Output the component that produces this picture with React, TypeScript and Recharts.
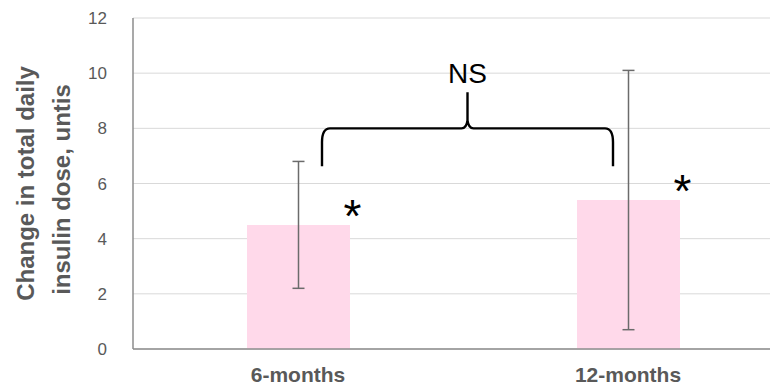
import { BarChart, Bar, XAxis, YAxis, CartesianGrid, ErrorBar, LabelList, ReferenceLine } from 'recharts';

const periods = ['6-months', '12-months'];
const meanChange = [4.5, 5.4];
const errors = [2.3, 4.7];
const marks = ['*', '*'];
const yTicks = [0, 2, 4, 6, 8, 10, 12];

const data = periods.map((name, i) => ({
  name,
  value: meanChange[i],
  err: errors[i],
  sig: marks[i],
}));

const FONT = '"Liberation Sans", Arial, sans-serif';
const AXIS_GRAY = '#8c8c8c';
const TEXT_GRAY = '#595959';

// curly brace spanning both bars, with the NS label on top
const Brace = (props: any) => {
  const { x1, x2, y1 } = props;
  if (x1 == null || x2 == null || y1 == null) return null;
  const L = x1 + 24;
  const R = x2 - 15;
  const M = (L + R) / 2;
  const y = y1;
  const d = [
    `M ${L} ${y + 38}`,
    `L ${L} ${y + 14}`,
    `Q ${L} ${y} ${L + 8} ${y}`,
    `L ${M - 6} ${y}`,
    `Q ${M - 1} ${y} ${M} ${y - 8}`,
    `L ${M} ${y - 36}`,
    `M ${M} ${y - 8}`,
    `Q ${M + 1} ${y} ${M + 6} ${y}`,
    `L ${R - 8} ${y}`,
    `Q ${R} ${y} ${R} ${y + 14}`,
    `L ${R} ${y + 38}`,
  ].join(' ');
  return (
    <g>
      <path d={d} fill="none" stroke="#000" strokeWidth={2.4} strokeLinejoin="round" />
      <text x={M} y={y - 45} textAnchor="middle" fontSize={28} fontFamily={FONT} fill="#000">
        NS
      </text>
    </g>
  );
};

const Star = (props: any) => {
  const { x, y, width, value } = props;
  return (
    <text
      x={x + width + 2.5}
      y={y + 7}
      textAnchor="middle"
      fontSize={46}
      fontFamily={FONT}
      fill="#000"
    >
      {value}
    </text>
  );
};

const YLabel = (props: any) => {
  const vb = props.viewBox || { x: 0, y: 0, width: 0, height: 0 };
  const cy = vb.y + vb.height / 2;
  const style = { fontSize: 24, fontWeight: 700, fontFamily: FONT, fill: TEXT_GRAY };
  return (
    <g>
      <text transform={`translate(${vb.x + 26}, ${cy}) rotate(-90)`} textAnchor="middle" style={style}>
        Change in total daily
      </text>
      <text transform={`translate(${vb.x + 62}, ${cy + 6}) rotate(-90)`} textAnchor="middle" style={style}>
        insulin dose, untis
      </text>
    </g>
  );
};

export default function App() {
  return (
    <div style={{ width: 770, height: 380, overflow: 'hidden', fontFamily: FONT }}>
      <BarChart
        width={790}
        height={380}
        data={data}
        margin={{ top: 10, right: 5, bottom: 9, left: 0 }}
      >
        <CartesianGrid vertical={false} stroke="#d9d9d9" />
        <XAxis
          dataKey="name"
          height={30}
          axisLine={{ stroke: AXIS_GRAY, strokeWidth: 1.5 }}
          tickLine={false}
          tickMargin={12}
          tick={{ fill: TEXT_GRAY, fontSize: 21, fontWeight: 700, fontFamily: FONT }}
        />
        <YAxis
          width={125}
          domain={[0, 12]}
          ticks={yTicks}
          interval={0}
          axisLine={{ stroke: AXIS_GRAY, strokeWidth: 1.5 }}
          tickLine={false}
          tickMargin={20}
          tick={{ fill: TEXT_GRAY, fontSize: 17, fontFamily: FONT }}
          label={<YLabel />}
        />
        <Bar dataKey="value" fill="#FFD9EA" barSize={103} isAnimationActive={false}>
          <ErrorBar dataKey="err" width={6} stroke="#6b6b6b" strokeWidth={1.5} direction="y" />
          <LabelList dataKey="sig" content={<Star />} />
        </Bar>
        <ReferenceLine
          segment={[
            { x: periods[0], y: 8 },
            { x: periods[1], y: 8 },
          ]}
          ifOverflow="visible"
          shape={<Brace />}
        />
      </BarChart>
    </div>
  );
}
